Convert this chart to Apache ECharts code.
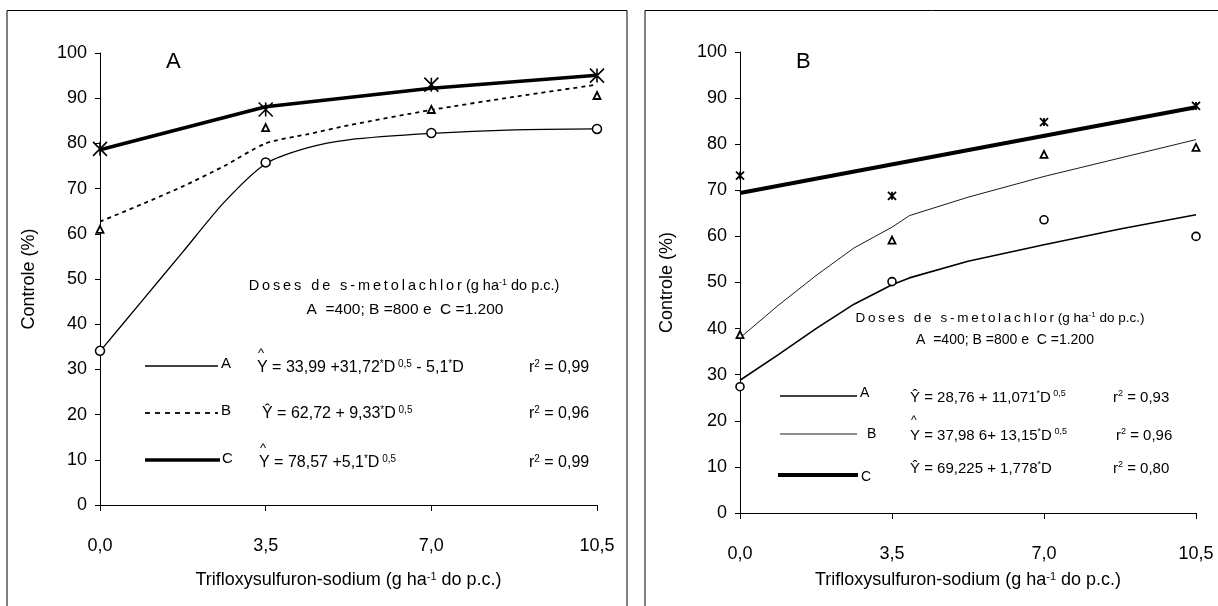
<!DOCTYPE html>
<html>
<head>
<meta charset="utf-8">
<script src="https://cdn.jsdelivr.net/npm/echarts@6/dist/echarts.min.js"></script>
<style>
  html, body { margin: 0; padding: 0; background: #fff; }
  #chart { width: 1218px; height: 606px; }
</style>
</head>
<body>
<div id="chart"></div>
<script>
// Trifloxysulfuron-sodium doses (g ha-1) and their axis labels
const doseTicks = [0, 3.5, 7, 10.5];
const doseLabels = ['0,0', '3,5', '7,0', '10,5'];

// Panel A: observed control (%) for s-metolachlor doses A, B, C
const obsA_A = [34.1, 75.8, 82.3, 83.2];
const obsA_B = [61.0, 83.5, 87.5, 90.6];
const obsA_C = [78.8, 87.5, 93.0, 95.0];

// Panel A: fitted curves
const fitDosesA = [0, 0.875, 1.75, 2.625, 3.5, 4.375, 5.25, 7, 8.75, 10.5];
const fitA_A = [34.0, 45.0, 56.0, 67.0, 75.5, 79.0, 80.8, 82.2, 83.0, 83.2];
const fitA_B = [62.7, 66.5, 70.5, 75.0, 80.0, 82.0, 84.0, 87.4, 90.3, 93.0];
const fitDosesA_C = [0, 3.5, 7, 10.5];
const fitA_C = [78.6, 88.1, 92.2, 95.1];

// Panel B: observed control (%)
const obsB_A = [27.4, 50.2, 63.6, 60.0];
const obsB_B = [38.7, 59.2, 77.8, 79.3];
const obsB_C = [73.2, 68.8, 84.8, 88.3];

// Panel B: fitted curves
const fitDosesB = [0, 0.875, 1.75, 2.625, 3.5, 3.9, 5.25, 7, 8.75, 10.5];
const fitB_A = [28.8, 34.3, 40.0, 45.3, 49.5, 51.0, 54.6, 58.2, 61.6, 64.7];
const fitB_B = [38.0, 45.0, 51.5, 57.5, 62.0, 64.5, 68.5, 73.0, 77.0, 81.0];
const fitDosesB_C = [0, 10.5];
const fitB_C = [69.4, 88.0];

const FONT = "'Liberation Sans', Arial, sans-serif";
const pair = (xs, ys) => xs.map((x, i) => [x, ys[i]]);

const asteriskPath = 'path://M0,0L10,10M10,0L0,10M5,0L5,10';

function xAxisFor(gridIndex, nameGap) {
  return {
    gridIndex, type: 'value', min: 0, max: 10.5, interval: 3.5,
    name: '{n|Trifloxysulfuron-sodium (g ha}{s|-1}{n| do p.c.)}',
    nameLocation: 'middle', nameGap,
    nameTextStyle: {
      rich: {
        n: { fontFamily: FONT, fontSize: 18, color: '#000' },
        s: { fontFamily: FONT, fontSize: 11, color: '#000', verticalAlign: 'top', padding: [0, 0, 8, 0] }
      }
    },
    axisLine: { lineStyle: { color: '#000', width: 1 } },
    axisTick: { inside: false, length: 6, lineStyle: { color: '#000' } },
    axisLabel: {
      margin: 32, fontFamily: FONT, fontSize: 18, color: '#000',
      formatter: v => { const i = doseTicks.indexOf(v); return i >= 0 ? doseLabels[i] : ''; }
    },
    splitLine: { show: false }
  };
}

function yAxisFor(gridIndex, nameGap) {
  return {
    gridIndex, type: 'value', min: 0, max: 100, interval: 10,
    name: 'Controle (%)', nameLocation: 'middle', nameGap, nameRotate: 90,
    nameTextStyle: { fontFamily: FONT, fontSize: 18, color: '#000' },
    axisLine: { show: true, lineStyle: { color: '#000', width: 1 } },
    axisTick: { show: true, inside: false, length: 5, lineStyle: { color: '#000' } },
    axisLabel: { margin: 13, fontFamily: FONT, fontSize: 18, color: '#000' },
    splitLine: { show: false }
  };
}

function fitLine(idx, data, width, dash, smooth) {
  return {
    type: 'line', xAxisIndex: idx, yAxisIndex: idx, data, showSymbol: false,
    smooth: smooth || false, silent: true,
    lineStyle: { color: '#000', width, type: dash || 'solid' }
  };
}

function marks(idx, data, symbol, size, bw) {
  return {
    type: 'scatter', xAxisIndex: idx, yAxisIndex: idx, data, symbol, symbolSize: size,
    silent: true, z: 5,
    itemStyle: { color: symbol === 'circle' || symbol === 'triangle' ? '#fff' : 'none', borderColor: '#000', borderWidth: bw, opacity: 1 }
  };
}

// Rich-text styles for the regression equations
function eqRich(fs) {
  return {
    t: { fontFamily: FONT, fontSize: fs, color: '#000' },
    s: { fontFamily: FONT, fontSize: Math.round(fs * 0.62), color: '#000', verticalAlign: 'top', padding: [0, 0, Math.round(fs * 0.5), 0] }
  };
}

function txt(x, y, text, opts) {
  opts = opts || {};
  return {
    type: 'text', x, y, silent: true,
    style: Object.assign({
      text, fill: '#000', fontFamily: FONT, fontSize: 15,
      align: 'left', verticalAlign: 'middle'
    }, opts)
  };
}
function seg(x1, y1, x2, y2, w, dash) {
  return {
    type: 'line', silent: true, shape: { x1, y1, x2, y2 },
    style: { stroke: '#000', lineWidth: w, lineDash: dash || null }
  };
}
function spaced(s) { return s.split('').join('\u2009'); }
function keyTitle(x, y, fs) {
  return txt(x, y, spaced('Doses de s-metolachlor') + ' (g ha{u|-1} do p.c.)', {
    fontSize: fs, align: 'center',
    rich: { u: { fontFamily: FONT, fontSize: Math.round(fs * 0.62), verticalAlign: 'top', padding: [0, 0, Math.round(fs * 0.45), 0] } }
  });
}

const rA = eqRich(16), rB = eqRich(15);
const graphics = [
  // panel frames
  { type: 'polyline', silent: true, shape: { points: [[7, 606], [7, 10.5], [627, 10.5], [627, 606]] }, style: { stroke: '#000', lineWidth: 1, fill: null } },
  { type: 'polyline', silent: true, shape: { points: [[645, 606], [645, 10.5], [1218, 10.5]] }, style: { stroke: '#000', lineWidth: 1, fill: null } },

  // panel letters
  txt(166, 62, 'A', { fontSize: 22 }),
  txt(796, 62, 'B', { fontSize: 22 }),

  // panel A key
  keyTitle(404, 286, 14.5),
  txt(405, 310, 'A  =400; B =800 e  C =1.200', { fontSize: 15.5, align: 'center' }),

  seg(145, 366, 218, 366, 1.3),
  txt(221, 364, 'A', { fontSize: 15 }),
  txt(257, 368, '{t|Y = 33,99 +31,72}{s|*}{t|D}{s| 0,5}{t| - 5,1}{s|*}{t|D}', { rich: rA }),
  txt(258, 353, '^', { fontSize: 13 }),
  txt(529, 368, '{t|r}{s|2}{t| = 0,99}', { rich: rA }),

  seg(145, 413, 218, 413, 1.8, [5, 5]),
  txt(221, 411, 'B', { fontSize: 15 }),
  txt(262, 414, '{t|Ŷ = 62,72 + 9,33}{s|*}{t|D}{s| 0,5}', { rich: rA }),
  txt(529, 414, '{t|r}{s|2}{t| = 0,96}', { rich: rA }),

  seg(145, 460, 220, 460, 3.5),
  txt(222, 459, 'C', { fontSize: 15 }),
  txt(259, 463, '{t|Y = 78,57 +5,1}{s|*}{t|D}{s| 0,5}', { rich: rA }),
  txt(260, 448, '^', { fontSize: 13 }),
  txt(529, 463, '{t|r}{s|2}{t| = 0,99}', { rich: rA }),

  // panel B key
  keyTitle(1000, 318, 13.5),
  txt(1005, 340, 'A  =400; B =800 e  C =1.200', { fontSize: 14, align: 'center' }),

  seg(780, 396, 857, 396, 1.6),
  txt(860, 393, 'A', { fontSize: 14 }),
  txt(910, 398, '{t|Ŷ = 28,76 + 11,071}{s|*}{t|D}{s| 0,5}', { rich: rB }),
  txt(1113, 398, '{t|r}{s|2}{t| = 0,93}', { rich: rB }),

  seg(780, 434, 857, 434, 0.9),
  txt(867, 434, 'B', { fontSize: 14 }),
  txt(910, 436, '{t|Y = 37,98 6+ 13,15}{s|*}{t|D}{s| 0,5}', { rich: rB }),
  txt(911, 421, '^', { fontSize: 12 }),
  txt(1116, 436, '{t|r}{s|2}{t| = 0,96}', { rich: rB }),

  seg(778, 475, 858, 475, 4),
  txt(861, 477, 'C', { fontSize: 14 }),
  txt(910, 469, '{t|Ŷ = 69,225 + 1,778}{s|*}{t|D}', { rich: rB }),
  txt(1113, 469, '{t|r}{s|2}{t| = 0,80}', { rich: rB })
];

const chart = echarts.init(document.getElementById('chart'), null, { renderer: 'canvas' });
chart.setOption({
  animation: false,
  backgroundColor: '#fff',
  grid: [
    { left: 100, top: 53, width: 497, height: 452 },
    { left: 740, top: 52, width: 456, height: 461 }
  ],
  xAxis: [xAxisFor(0, 66), xAxisFor(1, 58)],
  yAxis: [yAxisFor(0, 62), yAxisFor(1, 64)],
  graphic: graphics,
  series: [
    // panel A
    fitLine(0, pair(fitDosesA, fitA_A), 1.3, null, 0.25),
    fitLine(0, pair(fitDosesA, fitA_B), 1.8, [4, 4], 0.25),
    fitLine(0, pair(fitDosesA_C, fitA_C), 3.5),
    marks(0, pair(doseTicks, obsA_A), 'circle', 9, 1.5),
    marks(0, pair(doseTicks, obsA_B), 'triangle', 7, 1.8),
    marks(0, pair(doseTicks, obsA_C), asteriskPath, 14, 1.6),
    // panel B
    fitLine(1, pair(fitDosesB, fitB_A), 1.6),
    fitLine(1, pair(fitDosesB, fitB_B), 0.9),
    fitLine(1, pair(fitDosesB_C, fitB_C), 4),
    marks(1, pair(doseTicks, obsB_A), 'circle', 8, 1.6),
    marks(1, pair(doseTicks, obsB_B), 'triangle', 7, 1.8),
    marks(1, pair(doseTicks, obsB_C), asteriskPath, 8, 1.8)
  ]
});
</script>
</body>
</html>
